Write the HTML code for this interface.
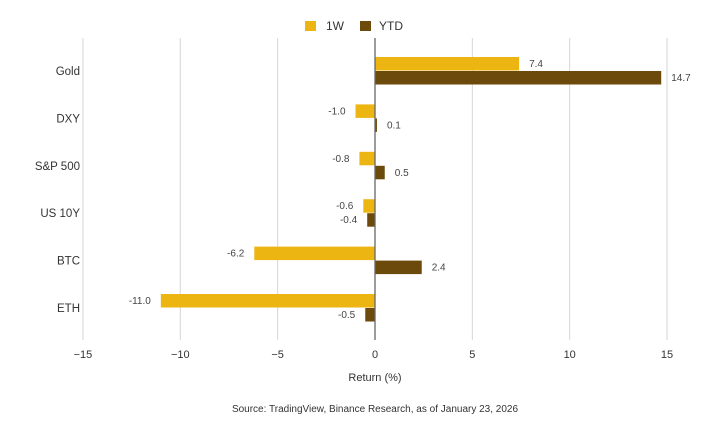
<!DOCTYPE html>
<html><head><meta charset="utf-8"><style>
body{margin:0;background:#fff;width:723px;height:423px;overflow:hidden;font-family:"Liberation Sans",sans-serif}
</style></head><body>
<svg id="chart" width="723" height="423" xmlns="http://www.w3.org/2000/svg" font-family="Liberation Sans, sans-serif">
<g>
<rect x="305" y="21" width="11" height="10" fill="#EDB512"/>
<text x="326" y="30" font-size="12" fill="#333">1W</text>
<rect x="360" y="21" width="11" height="10" fill="#6B4A0C"/>
<text x="379" y="30" font-size="12" fill="#333">YTD</text>
</g>
<g id="grid"></g><g id="bars"></g><g id="labels"></g>
<text x="375" y="381" font-size="11" text-anchor="middle" fill="#333">Return (%)</text>
<text x="375" y="412" font-size="10" text-anchor="middle" fill="#333">Source: TradingView, Binance Research, as of January 23, 2026</text>
</svg>
<script>
const categories=["Gold","DXY","S&P 500","US 10Y","BTC","ETH"];
const w1=[7.4,-1.0,-0.8,-0.6,-6.2,-11.0];
const ytd=[14.7,0.1,0.5,-0.4,2.4,-0.5];
const ticks=[-15,-10,-5,0,5,10,15];
const NS="http://www.w3.org/2000/svg";
const x=v=>375+v*19.47;
const yc=i=>71+i*47.4;
function mk(tag,attrs,parent){const e=document.createElementNS(NS,tag);for(const k in attrs)e.setAttribute(k,attrs[k]);parent.appendChild(e);return e;}
const grid=document.getElementById('grid'),bars=document.getElementById('bars'),labels=document.getElementById('labels');
ticks.forEach(t=>{
 if(t!==0){const l=mk('line',{x1:x(t),x2:x(t),y1:38,y2:340,stroke:'#d6d6d6','stroke-width':1},grid);
 
 }
 const tx=mk('text',{x:x(t),y:358,'font-size':11,'text-anchor':'middle',fill:'#333'},labels);
 tx.textContent=t<0?'\u2212'+Math.abs(t):t;
 
 
});
categories.forEach((c,i)=>{
 const ct=mk('text',{x:80,y:yc(i)+4,'font-size':11.5,'text-anchor':'end',fill:'#333'},labels);
 ct.textContent=c;
 
 
 [[w1,'#EDB512',-14,'1w'],[ytd,'#6B4A0C',0,'ytd']].forEach(([arr,col,off,nm])=>{
  const v=arr[i];const y0=yc(i)+off;
  const r=mk('rect',{x:Math.min(x(0),x(v)),y:y0,width:Math.max(Math.abs(x(v)-x(0)),1.5),height:13.5,fill:col},bars);
  
  
  const lt=mk('text',{x:v>=0?x(v)+10:x(v)-10,y:y0+10,'font-size':10,'text-anchor':v>=0?'start':'end',fill:'#444'},labels);
  lt.textContent=v.toFixed(1);
  
  
 });
});
const z=mk('line',{x1:x(0),x2:x(0),y1:38,y2:340,stroke:'#666','stroke-width':1.3},bars);


</script>
</body></html>
